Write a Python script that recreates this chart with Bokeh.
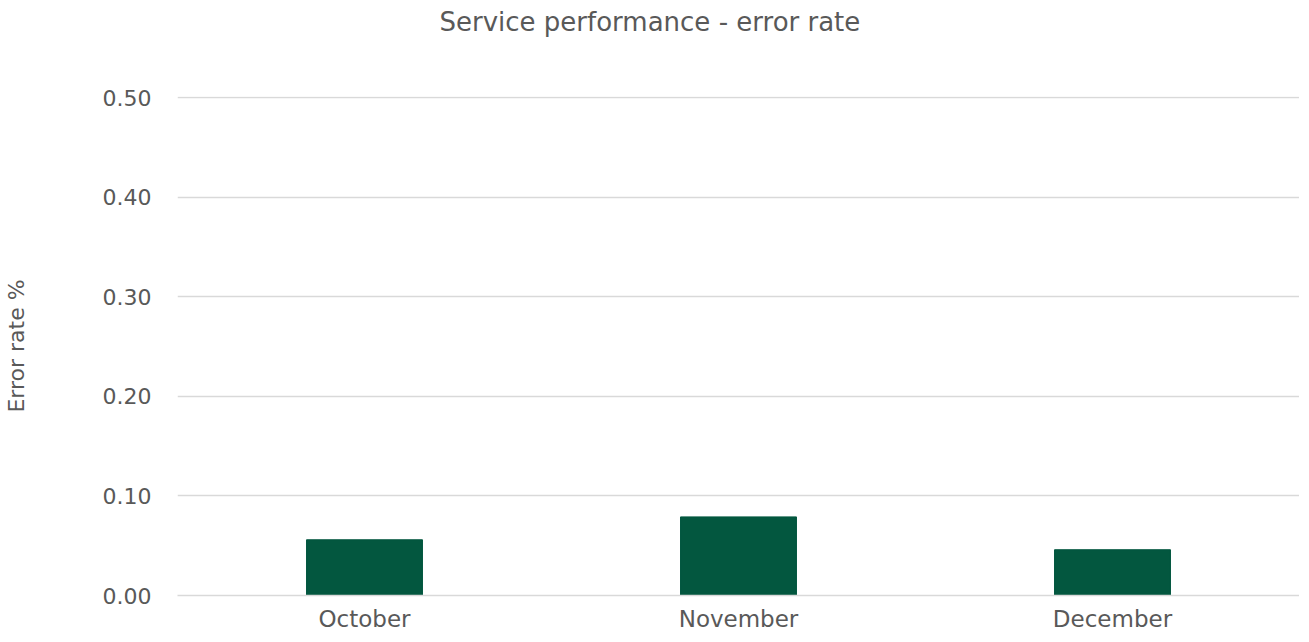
from bokeh.plotting import figure
from bokeh.models import Range1d, FixedTicker, CustomJSTickFormatter, Title
from bokeh.embed import file_html
from bokeh.resources import INLINE

months = ["October", "November", "December"]
error_rate = [0.056, 0.079, 0.046]
y_ticks = [0.0, 0.1, 0.2, 0.3, 0.4, 0.5]
title_text = "Service performance - error rate"

FONT = "DejaVu Sans"
TXT = "#595959"

p = figure(x_range=months, y_range=Range1d(0, 0.5015),
           frame_width=1122, frame_height=499,
           output_backend="svg", toolbar_location=None,
           title=title_text)
p.min_border_left = 0
p.min_border_right = 0
p.min_border_top = 0
p.min_border_bottom = 0

# empty spacer between the title and the plot area
p.add_layout(Title(text=" ", text_font=FONT, text_font_size="46px", standoff=0), "above")

p.title.text_font = FONT
p.title.text_font_size = "26px"
p.title.text_font_style = "normal"
p.title.text_color = TXT
p.title.align = "left"
p.title.offset = 262
p.title.standoff = 8

p.vbar(x=months, top=error_rate, width=0.31, color="#03573F")

p.outline_line_color = None
p.background_fill_color = "white"
p.border_fill_color = "white"

p.xgrid.grid_line_color = None
p.ygrid.grid_line_color = "#d9d9d9"
p.ygrid.grid_line_width = 1.5

p.yaxis.ticker = FixedTicker(ticks=y_ticks)
p.yaxis.formatter = CustomJSTickFormatter(code="return tick.toFixed(2);")
p.yaxis.axis_line_color = None
p.yaxis.major_tick_line_color = None
p.yaxis.minor_tick_line_color = None
p.yaxis.major_tick_out = 0
p.yaxis.major_label_text_font = FONT
p.yaxis.major_label_text_font_size = "22px"
p.yaxis.major_label_text_color = TXT
p.yaxis.major_label_standoff = 26
p.yaxis.axis_label = "Error rate %"
p.yaxis.axis_label_text_font = FONT
p.yaxis.axis_label_text_font_size = "22px"
p.yaxis.axis_label_text_font_style = "normal"
p.yaxis.axis_label_text_color = TXT
p.yaxis.axis_label_standoff = 71

p.xaxis.axis_line_color = "#d9d9d9"
p.xaxis.axis_line_width = 1.5
p.xaxis.major_tick_line_color = None
p.xaxis.minor_tick_line_color = None
p.xaxis.major_tick_out = 0
p.xaxis.major_label_text_font = FONT
p.xaxis.major_label_text_font_size = "23px"
p.xaxis.major_label_text_color = TXT
p.xaxis.major_label_standoff = 10

open("out.html", "w").write(file_html(p, INLINE))
